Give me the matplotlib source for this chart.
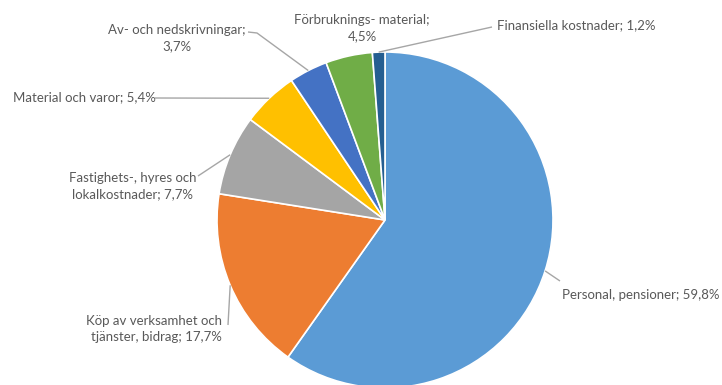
import numpy as np
import matplotlib
matplotlib.use("Agg")
import matplotlib.pyplot as plt

categories = ["Personal, pensioner", "Köp av verksamhet och\ntjänster, bidrag",
              "Fastighets-, hyres och\nlokalkostnader", "Material och varor",
              "Av- och nedskrivningar;\n", "Förbruknings- material;\n",
              "Finansiella kostnader"]
values = [59.8, 17.7, 7.7, 5.4, 3.7, 4.5, 1.2]
value_labels = ["59,8%", "17,7%", "7,7%", "5,4%", "3,7%", "4,5%", "1,2%"]
colors = ["#5B9BD5", "#ED7D31", "#A5A5A5", "#FFC000", "#4472C4", "#70AD47", "#255E91"]

W, H = 722, 385
fig = plt.figure(figsize=(W / 100, H / 100), dpi=100)
ax = fig.add_axes([0, 0, 1, 1])

cx, cy, R = 385, H - 220, 168
ax.pie(values, colors=colors, startangle=90, counterclock=False, radius=R,
       center=(cx, cy), wedgeprops=dict(edgecolor="white", linewidth=1.2))
ax.set_xlim(0, W)
ax.set_ylim(0, H)
ax.set_aspect("equal")
ax.axis("off")

def label_text(i):
    c = categories[i]
    if c.endswith("\n"):
        return c + value_labels[i]
    return c + "; " + value_labels[i]

# text placement (x, y from top), alignment, leader path points (x, y from top)
layout = [
    dict(xy=(562, 295), ha="left", path=[(560, 281)]),
    dict(xy=(222, 329), ha="right", path=[(228, 325)]),
    dict(xy=(133, 186), ha="center", path=[(198, 176)]),
    dict(xy=(84, 97), ha="center", path=[(155, 98)]),
    dict(xy=(177, 38), ha="center", path=[(257, 33), (248, 32)]),
    dict(xy=(362, 28), ha="center", path=None),
    dict(xy=(576, 25), ha="center", path=[(492, 27)]),
]

txt_color = "#595959"
cum = np.cumsum([0] + values[:-1])
total = sum(values)
for i, v in enumerate(values):
    mid = (cum[i] + v / 2) / total
    ang = np.deg2rad(90 - 360 * mid)
    ax_x = cx + R * np.cos(ang)
    ax_y = cy + R * np.sin(ang)
    L = layout[i]
    tx, ty = L["xy"]
    ax.text(tx, H - ty, label_text(i), ha=L["ha"], va="center", fontsize=9.5,
            family="Lato", color=txt_color, linespacing=1.45)
    if L["path"] is not None:
        xs = [ax_x] + [p[0] for p in L["path"]]
        ys = [ax_y] + [H - p[1] for p in L["path"]]
        ax.plot(xs, ys, color="#A6A6A6", lw=1.0, solid_capstyle="butt")

fig.savefig("out.png", dpi=100)
